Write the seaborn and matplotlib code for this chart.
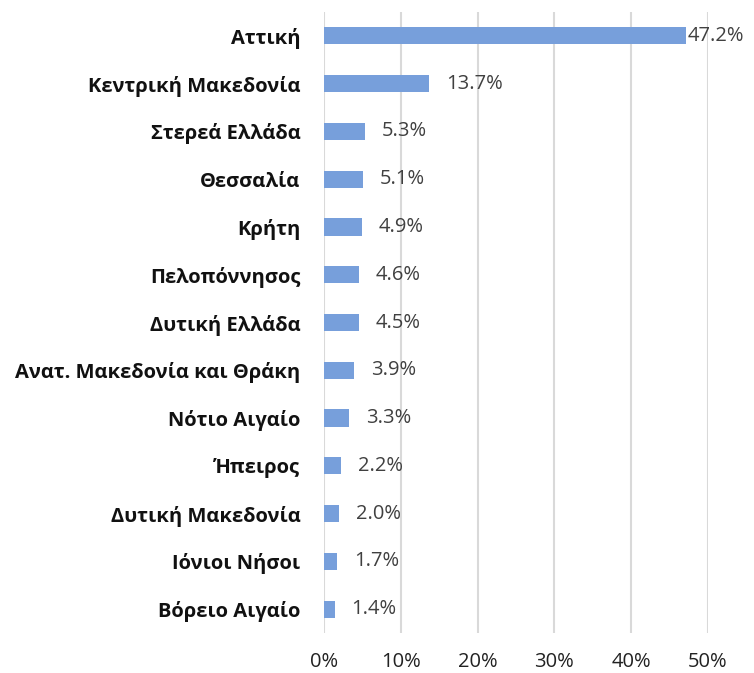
import matplotlib
matplotlib.use("Agg")
import matplotlib.pyplot as plt
import pandas as pd
import seaborn as sns
from matplotlib.ticker import FuncFormatter

regions = ['Αττική', 'Κεντρική Μακεδονία', 'Στερεά Ελλάδα', 'Θεσσαλία', 'Κρήτη',
           'Πελοπόννησος', 'Δυτική Ελλάδα', 'Ανατ. Μακεδονία και Θράκη', 'Νότιο Αιγαίο',
           'Ήπειρος', 'Δυτική Μακεδονία', 'Ιόνιοι Νήσοι', 'Βόρειο Αιγαίο']
shares = [47.2, 13.7, 5.3, 5.1, 4.9, 4.6, 4.5, 3.9, 3.3, 2.2, 2.0, 1.7, 1.4]
x_ticks = [0, 10, 20, 30, 40, 50]

df = pd.DataFrame({'region': regions, 'share': shares})

sns.set_style('white')
plt.rcParams['font.family'] = ['Open Sans', 'DejaVu Sans']

fig = plt.figure(figsize=(7.54, 6.73), dpi=100)
ax = fig.add_axes([324 / 754, 1 - 633 / 673, (708 - 324) / 754, (633 - 12) / 673])

sns.barplot(data=df, x='share', y='region', color='#779fdb', width=0.36,
            saturation=1, linewidth=0, ax=ax)

ax.set_xlim(0, 50)
ax.set_ylim(len(regions) - 0.5, -0.5)
ax.set_xticks(x_ticks)
ax.xaxis.set_major_formatter(FuncFormatter(lambda v, p: f'{v:.0f}%'))
ax.grid(axis='x', color='#d9d9d9', linewidth=1.5)
ax.set_axisbelow(True)
for s in ax.spines.values():
    s.set_visible(False)
ax.set_xlabel('')
ax.set_ylabel('')
ax.tick_params(axis='x', length=0, pad=14, labelsize=14.5, labelcolor='#222222')
ax.tick_params(axis='y', length=0, pad=17, labelsize=14.5, labelcolor='#111111')
for lbl in ax.get_yticklabels():
    lbl.set_fontweight('bold')

for i, v in enumerate(shares):
    off = 1 if v > 40 else 12
    ax.annotate(f'{v:.1f}%', (v, i), xytext=(off, 0), textcoords='offset points',
                ha='left', va='center', fontsize=14.5, color='#404040',
                annotation_clip=False)

fig.savefig('out.png', dpi=100)
